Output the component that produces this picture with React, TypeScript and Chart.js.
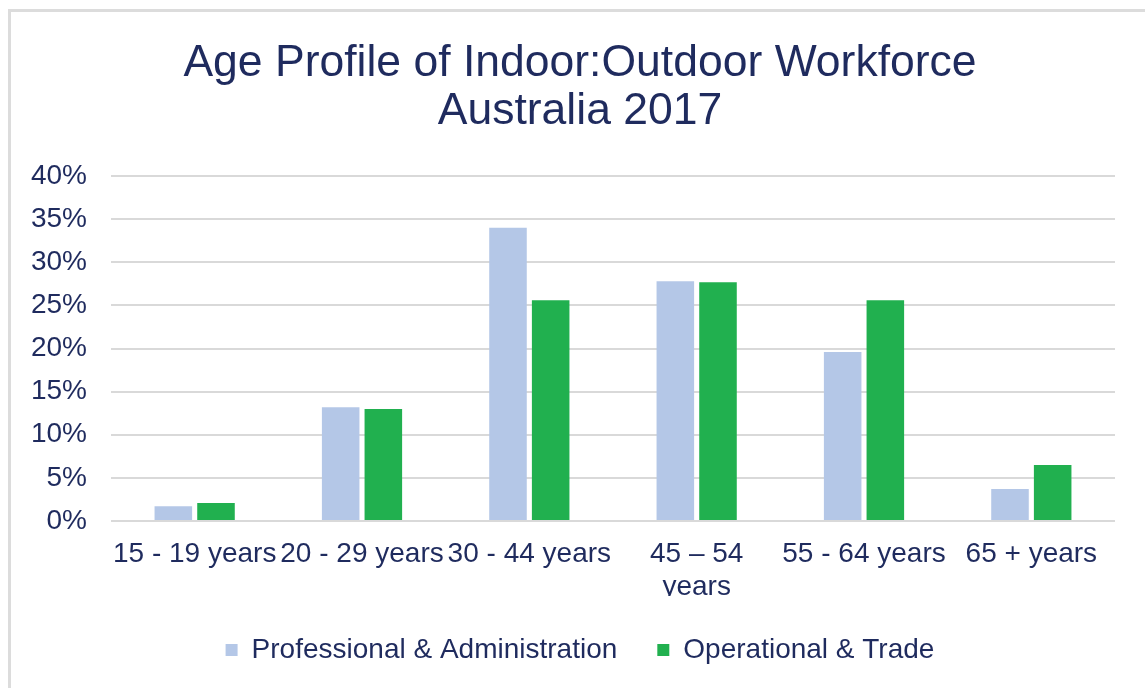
import React, { useEffect, useRef } from "react";
import { Chart, registerables } from "chart.js";

Chart.register(...registerables);

const categories: (string | string[])[] = [
  "15 - 19 years",
  "20 - 29 years",
  "30 - 44 years",
  ["45 – 54", "years"],
  "55 - 64 years",
  "65 + years",
];
const professional = [1.7, 13.2, 34.0, 27.8, 19.6, 3.7];
const operational = [2.1, 13.0, 25.6, 27.7, 25.6, 6.5];
const titleLines = ["Age Profile of Indoor:Outdoor Workforce", "Australia 2017"];
const seriesNames = ["Professional & Administration", "Operational & Trade"];

const NAVY = "#1F2B5E";
const FONT = "'Liberation Sans', Arial, sans-serif";

export default function App() {
  const ref = useRef<HTMLCanvasElement | null>(null);
  useEffect(() => {
    if (!ref.current) return;
    const chart = new Chart(ref.current, {
      type: "bar",
      data: {
        labels: categories,
        datasets: [
          {
            label: seriesNames[0],
            data: professional,
            backgroundColor: "#B4C7E7",
            categoryPercentage: 0.51,
            barPercentage: 0.88,
          },
          {
            label: seriesNames[1],
            data: operational,
            backgroundColor: "#21B04F",
            categoryPercentage: 0.51,
            barPercentage: 0.88,
          },
        ],
      },
      options: {
        responsive: false,
        animation: false,
        devicePixelRatio: 1,
        layout: { padding: { left: 15, right: 0, top: 0, bottom: 14 } },
        plugins: {
          title: {
            display: true,
            text: titleLines,
            color: NAVY,
            font: { family: FONT, size: 44.5, weight: "normal", lineHeight: 1.08 },
            padding: { top: 40, bottom: 40 },
          },
          legend: {
            position: "bottom",
            labels: {
              color: NAVY,
              font: { family: FONT, size: 28 },
              boxWidth: 12,
              boxHeight: 12,
              padding: 40,
            },
          },
          tooltip: { enabled: false },
        },
        scales: {
          x: {
            grid: { display: false },
            border: { display: false },
            ticks: {
              color: NAVY,
              font: { family: FONT, size: 28, lineHeight: 1.2 },
              autoSkip: false,
              maxRotation: 0,
              minRotation: 0,
              padding: 8,
            },
            afterFit: (scale: any) => {
              scale.height = 75;
            },
          },
          y: {
            min: 0,
            max: 40,
            grid: { color: "#D9D9D9", lineWidth: 2, drawTicks: false },
            border: { display: false },
            ticks: {
              stepSize: 5,
              color: NAVY,
              font: { family: FONT, size: 28 },
              padding: 24,
              callback: (v: any) => v + "%",
            },
            afterFit: (scale: any) => {
              scale.width = 96;
            },
          },
          ySpacer: {
            position: "right",
            grid: { display: false, drawTicks: false },
            border: { display: false },
            ticks: { display: false },
            afterFit: (scale: any) => {
              scale.width = 30;
            },
          },
        },
      },
    });
    return () => chart.destroy();
  }, []);

  return (
    <div
      style={{
        position: "absolute",
        left: 0,
        top: 0,
        width: 1145,
        height: 688,
        overflow: "hidden",
        background: "#fff",
      }}
    >
      <div
        style={{
          position: "absolute",
          left: 8,
          top: 9,
          width: 1300,
          height: 800,
          borderLeft: "3px solid #DCDCDC",
          borderTop: "3px solid #DCDCDC",
        }}
      />
      <canvas
        ref={ref}
        width={1145}
        height={688}
        style={{ position: "absolute", left: 0, top: 0, width: 1145, height: 688 }}
      />
    </div>
  );
}
